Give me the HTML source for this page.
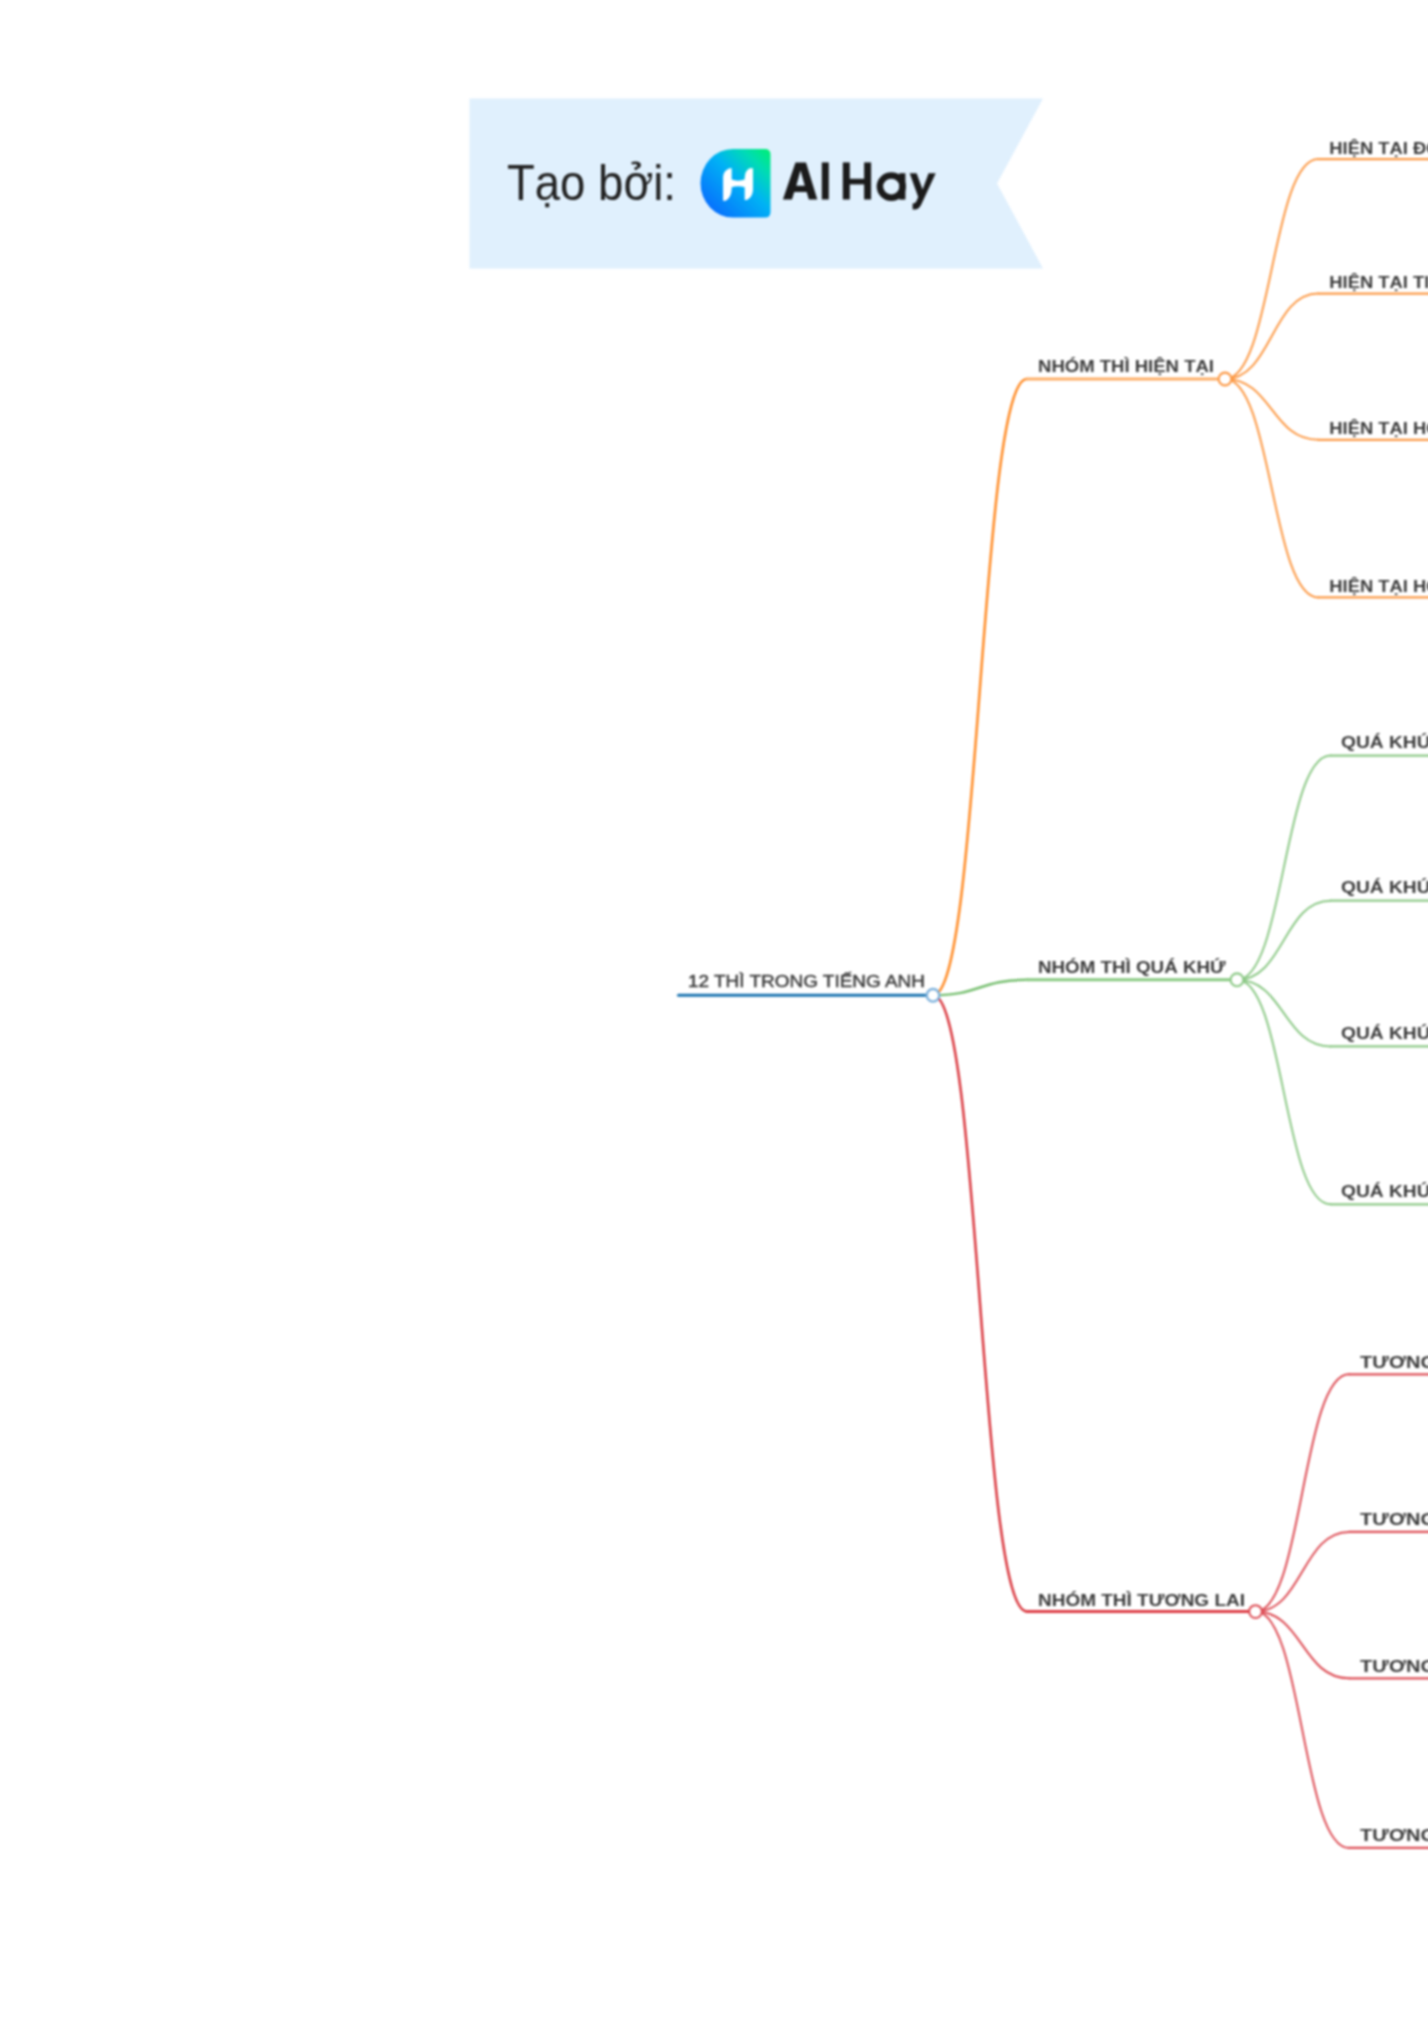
<!DOCTYPE html>
<html><head><meta charset="utf-8">
<style>
html,body{margin:0;padding:0;background:#ffffff;width:1428px;height:2018px;overflow:hidden;}
#wrap{position:relative;width:1428px;height:2018px;overflow:hidden;}
svg{position:absolute;left:0;top:0;display:block;filter:blur(1px);}
text{font-family:"Liberation Sans",sans-serif;}
</style></head>
<body>
<div id="wrap">
<svg width="1470" height="2018" viewBox="0 0 1470 2018">
<defs>
<linearGradient id="lg" x1="0" y1="1" x2="1" y2="0">
<stop offset="0" stop-color="#0a5cff"/>
<stop offset="0.55" stop-color="#00b2f5"/>
<stop offset="0.8" stop-color="#00dcb4"/>
<stop offset="1" stop-color="#00f070"/>
</linearGradient>
<filter id="bl" x="-10%" y="-10%" width="120%" height="120%"><feGaussianBlur stdDeviation="1"/></filter>
</defs>
<g>
<polygon points="469.5,98.5 1043,98.5 997,183.5 1043,268.5 469.5,268.5" fill="#e0f0fd"/>
<text x="507" y="199.8" font-size="50.5" fill="#222222" textLength="169" lengthAdjust="spacingAndGlyphs">Tạo bởi:</text>
<path d="M733,149 H765 Q770.5,149 770.5,154.5 V212 Q770.5,217.5 765,217.5 H733 A32.5,34.25 0 0 1 700.5,183.25 A32.5,34.25 0 0 1 733,149 Z" fill="url(#lg)"/>
<path d="M729.6,168.2 L731.7,168.2 L731.7,189.1 Q731.3,198 725.6,200.8 L723.1,200.8 L723.1,176.8 Q723.5,170.5 729.6,168.2 Z M749.6,168.2 L753,168.2 L753,189.7 Q752.6,197.5 746.8,199.9 L744.7,199.9 L744.7,177.4 Q745.1,170.5 749.6,168.2 Z M731,179.3 Q738,182 745.4,179.3 L745.4,187.4 Q738,185.2 731,187.4 Z" fill="#ffffff"/>
<g fill="#1b1b1b">
<path d="M782.9,199.5 L795.5,162.4 L806,162.4 L817.3,199.5 L808.8,199.5 L806.7,192.1 L794.2,192.1 L792,199.5 Z M796.3,185.8 L804.8,185.8 L800.5,170.5 Z"/>
<rect x="821.8" y="162.4" width="7" height="37.1"/>
<rect x="842.8" y="162.4" width="7" height="37.1"/>
<rect x="864.1" y="162.4" width="7" height="37.1"/>
<rect x="849" y="178.8" width="16" height="5.6"/>
<ellipse cx="891.3" cy="186.6" rx="11.4" ry="11.1" fill="none" stroke="#1b1b1b" stroke-width="6.5"/>
<rect x="899.3" y="173.2" width="6.1" height="26.4"/>
<path d="M909.7,173.2 L916.6,173.2 L922.6,189.5 L928.6,173.2 L935.7,173.2 L921.5,204 Q919.2,209.5 914.5,209.5 L912.6,209.5 L912.6,203.6 Q915.4,203.6 916.4,201.2 L918.2,197 Z"/>
</g>
</g>
<g>
<g fill="none" stroke-linecap="round">
<path d="M678.5,995.3 H933" stroke="#1b74b1" stroke-width="3"/>
<path d="M933.0,995.3 C980.0,995.3 980.0,379.0 1027.0,379.0" stroke="#ff8a24" stroke-width="2.5"/>
<path d="M1027.0,379.0 H1225.0" stroke="#feae66" stroke-width="3"/>
<path d="M1225.0,379.0 C1271.7,379.0 1271.7,159.1 1318.3,159.1" stroke="#fc9945" stroke-width="2"/>
<path d="M1318.3,159.1 H1470" stroke="#fc9945" stroke-width="2.2"/>
<path d="M1225.0,379.0 C1271.7,379.0 1271.7,293.6 1318.3,293.6" stroke="#fc9945" stroke-width="2"/>
<path d="M1318.3,293.6 H1470" stroke="#fc9945" stroke-width="2.2"/>
<path d="M1225.0,379.0 C1271.7,379.0 1271.7,439.8 1318.3,439.8" stroke="#fc9945" stroke-width="2"/>
<path d="M1318.3,439.8 H1470" stroke="#fc9945" stroke-width="2.2"/>
<path d="M1225.0,379.0 C1271.7,379.0 1271.7,597.4 1318.3,597.4" stroke="#fc9945" stroke-width="2"/>
<path d="M1318.3,597.4 H1470" stroke="#fc9945" stroke-width="2.2"/>
<path d="M933.0,995.3 C980.0,995.3 980.0,979.8 1027.0,979.8" stroke="#77bf70" stroke-width="2.5"/>
<path d="M1027.0,979.8 H1237.0" stroke="#87c980" stroke-width="3"/>
<path d="M1237.0,979.8 C1283.8,979.8 1283.8,755.6 1330.5,755.6" stroke="#8dc987" stroke-width="2"/>
<path d="M1330.5,755.6 H1470" stroke="#8dc987" stroke-width="2.2"/>
<path d="M1237.0,979.8 C1283.8,979.8 1283.8,900.7 1330.5,900.7" stroke="#8dc987" stroke-width="2"/>
<path d="M1330.5,900.7 H1470" stroke="#8dc987" stroke-width="2.2"/>
<path d="M1237.0,979.8 C1283.8,979.8 1283.8,1046.4 1330.5,1046.4" stroke="#8dc987" stroke-width="2"/>
<path d="M1330.5,1046.4 H1470" stroke="#8dc987" stroke-width="2.2"/>
<path d="M1237.0,979.8 C1283.8,979.8 1283.8,1204.3 1330.5,1204.3" stroke="#8dc987" stroke-width="2"/>
<path d="M1330.5,1204.3 H1470" stroke="#8dc987" stroke-width="2.2"/>
<path d="M933.0,995.3 C980.0,995.3 980.0,1611.6 1027.0,1611.6" stroke="#d9373e" stroke-width="2.5"/>
<path d="M1027.0,1611.6 H1255.5" stroke="#dd3b44" stroke-width="3"/>
<path d="M1255.5,1611.6 C1302.2,1611.6 1302.2,1374.3 1349.0,1374.3" stroke="#dd4d55" stroke-width="2"/>
<path d="M1349.0,1374.3 H1470" stroke="#dd4d55" stroke-width="2.2"/>
<path d="M1255.5,1611.6 C1302.2,1611.6 1302.2,1531.9 1349.0,1531.9" stroke="#dd4d55" stroke-width="2"/>
<path d="M1349.0,1531.9 H1470" stroke="#dd4d55" stroke-width="2.2"/>
<path d="M1255.5,1611.6 C1302.2,1611.6 1302.2,1678.3 1349.0,1678.3" stroke="#dd4d55" stroke-width="2"/>
<path d="M1349.0,1678.3 H1470" stroke="#dd4d55" stroke-width="2.2"/>
<path d="M1255.5,1611.6 C1302.2,1611.6 1302.2,1847.9 1349.0,1847.9" stroke="#dd4d55" stroke-width="2"/>
<path d="M1349.0,1847.9 H1470" stroke="#dd4d55" stroke-width="2.2"/>
<circle cx="933" cy="995.3" r="6.3" stroke="#7db1dc" stroke-width="2.4" fill="#fff"/>
<circle cx="1225.0" cy="379.0" r="6.4" stroke="#fc9945" stroke-width="2.1" fill="#fff"/>
<circle cx="1237.0" cy="979.8" r="6.4" stroke="#8dc987" stroke-width="2.1" fill="#fff"/>
<circle cx="1255.5" cy="1611.6" r="6.4" stroke="#dd4d55" stroke-width="2.1" fill="#fff"/>
</g>
<g fill="#3a3a3a" font-weight="bold">
<text x="688" y="987" font-size="16.5" font-weight="normal" fill="#3c3c3c" stroke="#3c3c3c" stroke-width="0.45" textLength="237" lengthAdjust="spacingAndGlyphs">12 THÌ TRONG TIẾNG ANH</text>
<text x="1038" y="371.6" font-size="17" textLength="176" lengthAdjust="spacingAndGlyphs">NHÓM THÌ HIỆN TẠI</text>
<text transform="translate(1329.3,153.5) scale(1.115,1)" font-size="16.5">HIỆN TẠI ĐƠN</text>
<text transform="translate(1329.3,288.0) scale(1.115,1)" font-size="16.5">HIỆN TẠI TIẾP DIỄN</text>
<text transform="translate(1329.3,434.2) scale(1.115,1)" font-size="16.5">HIỆN TẠI HOÀN THÀNH</text>
<text transform="translate(1329.3,591.8) scale(1.115,1)" font-size="16.5">HIỆN TẠI HOÀN THÀNH TIẾP DIỄN</text>
<text x="1038" y="972.7" font-size="17" textLength="187.6" lengthAdjust="spacingAndGlyphs">NHÓM THÌ QUÁ KHỨ</text>
<text transform="translate(1341.0,748.2) scale(1.164,1)" font-size="16.5">QUÁ KHỨ ĐƠN</text>
<text transform="translate(1341.0,893.3) scale(1.164,1)" font-size="16.5">QUÁ KHỨ TIẾP DIỄN</text>
<text transform="translate(1341.0,1039.0) scale(1.164,1)" font-size="16.5">QUÁ KHỨ HOÀN THÀNH</text>
<text transform="translate(1341.0,1196.9) scale(1.164,1)" font-size="16.5">QUÁ KHỨ HOÀN THÀNH TIẾP DIỄN</text>
<text x="1038" y="1605.5" font-size="17" textLength="207" lengthAdjust="spacingAndGlyphs">NHÓM THÌ TƯƠNG LAI</text>
<text transform="translate(1360.1,1367.7) scale(1.212,1)" font-size="16.5">TƯƠNG LAI ĐƠN</text>
<text transform="translate(1360.1,1525.3) scale(1.212,1)" font-size="16.5">TƯƠNG LAI TIẾP DIỄN</text>
<text transform="translate(1360.1,1671.7) scale(1.212,1)" font-size="16.5">TƯƠNG LAI HOÀN THÀNH</text>
<text transform="translate(1360.1,1841.3) scale(1.212,1)" font-size="16.5">TƯƠNG LAI HOÀN THÀNH TIẾP DIỄN</text>
</g>
</g>
</svg>
</div>
</body></html>
